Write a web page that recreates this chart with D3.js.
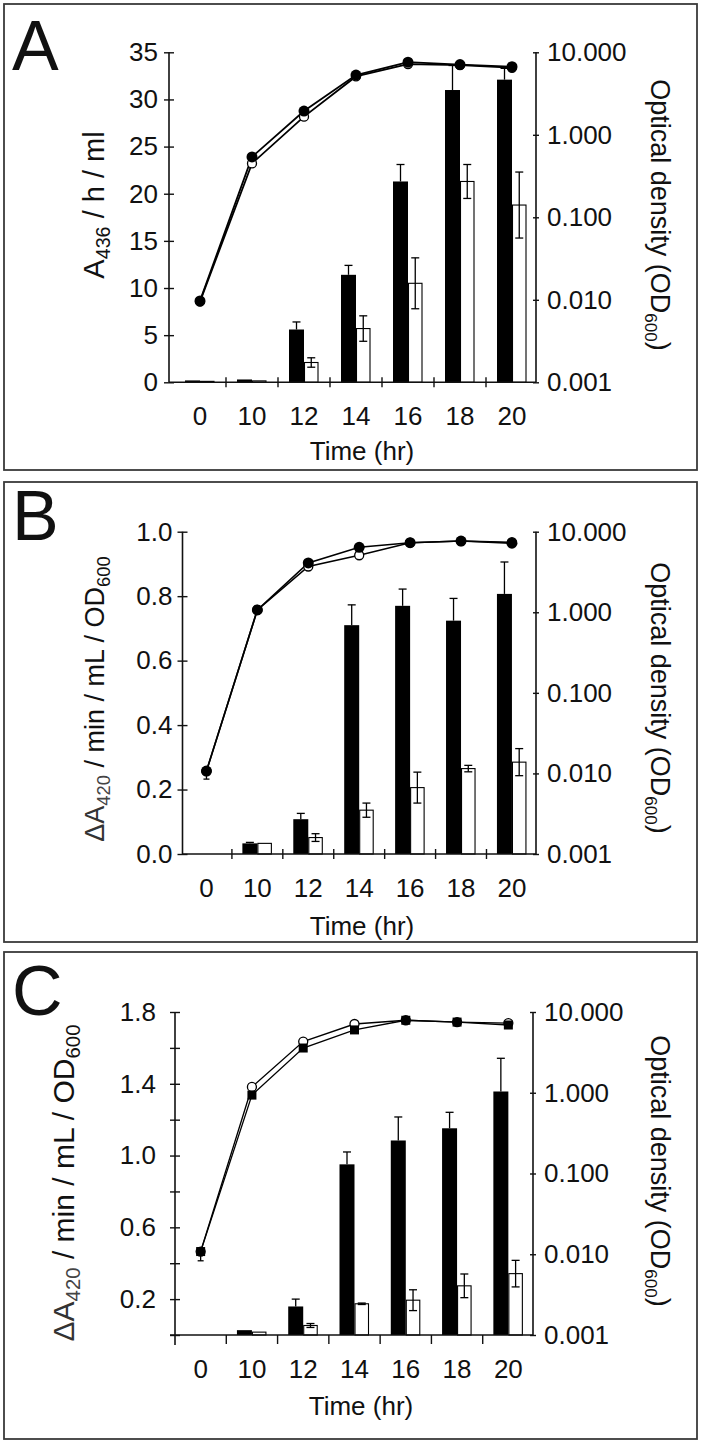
<!DOCTYPE html>
<html><head><meta charset="utf-8">
<script src="https://cdn.jsdelivr.net/npm/d3@7"></script>
<style>
body{margin:0;background:#fff}
svg{display:block}
text{font-family:"Liberation Sans",Arial,Helvetica,sans-serif;fill:#111}
</style>
</head><body>
<svg id="chart" width="706" height="1445"></svg>
<script>
// ---------- DATA ----------
const categories = ["0","10","12","14","16","18","20"];
const odTicks = [0.001, 0.01, 0.1, 1, 10];

// Panel A  (A436 / h / ml)
const aBlack    = [0.2, 0.3, 5.6, 11.4, 21.3, 31.0, 32.1];
const aBlackErr = [0, 0, 0.8, 1.0, 1.8, 2.6, 1.2];
const aWhite    = [0.1, 0.15, 2.1, 5.7, 10.5, 21.3, 18.8];
const aWhiteErr = [0, 0, 0.5, 1.35, 2.7, 1.8, 3.5];
const aOD1      = [0.0097, 0.54, 1.94, 5.3, 7.6, 7.1, 6.7];
const aOD2      = [0.0095, 0.45, 1.66, 5.1, 7.2, 7.0, 6.5];
const aOD1Low   = [0.0086, null, null, 4.7, null, null, null];
const aLeftTicks = [0, 5, 10, 15, 20, 25, 30, 35];
const aLeftTickLabels = ["0","5","10","15","20","25","30","35"];

// Panel B  (ΔA420 / min / mL / OD600)
const bBlack    = [0, 0.033, 0.108, 0.710, 0.770, 0.724, 0.807];
const bBlackErr = [0, 0.003, 0.018, 0.063, 0.052, 0.069, 0.099];
const bWhite    = [0, 0.033, 0.051, 0.136, 0.206, 0.265, 0.285];
const bWhiteErr = [0, 0, 0.012, 0.022, 0.048, 0.01, 0.042];
const bOD1      = [0.0107, 1.07, 4.1, 6.4, 7.3, 7.65, 7.2];
const bOD2      = [0.0107, 1.07, 3.7, 5.1, 7.3, 7.65, 7.4];
const bOD1Low   = [0.0085, null, null, null, null, null, null];
const bLeftTicks = [0, 0.2, 0.4, 0.6, 0.8, 1.0];
const bLeftTickLabels = ["0.0","0.2","0.4","0.6","0.8","1.0"];

// Panel C  (ΔA420 / min / mL / OD600)
const cBlack    = [0, 0.027, 0.159, 0.951, 1.084, 1.152, 1.357];
const cBlackErr = [0, 0, 0.041, 0.069, 0.131, 0.089, 0.185];
const cWhite    = [0, 0.016, 0.053, 0.174, 0.194, 0.274, 0.342];
const cWhiteErr = [0, 0, 0.011, 0.004, 0.058, 0.066, 0.074];
const cOD1      = [0.0108, 1.18, 4.3, 7.1, 7.9, 7.5, 7.3];
const cOD2      = [0.0108, 0.935, 3.58, 6.0, 7.9, 7.5, 6.9];
const cOD1Low   = [0.0083, null, null, null, null, null, null];
const cLeftTicks = [0, 0.2, 0.4, 0.6, 0.8, 1.0, 1.2, 1.4, 1.6, 1.8];
const cLeftTickLabels = ["0.2","0.6","1.0","1.4","1.8"];

// ---------- DRAW ----------
const svg = d3.select("#chart");
const FONT = '"Liberation Sans",Arial,Helvetica,sans-serif';

function drawPanel(p) {
  const g = svg.append("g");
  g.append("rect")
    .attr("x", p.frame[0]).attr("y", p.frame[1])
    .attr("width", p.frame[2] - p.frame[0]).attr("height", p.frame[3] - p.frame[1])
    .attr("fill", "none").attr("stroke", "#3a3a3a").attr("stroke-width", 1.8);

  g.append("text").text(p.letter)
    .attr("x", p.letterPos[0]).attr("y", p.letterPos[1])
    .attr("font-size", 70);

  const x = d3.scaleBand().domain(categories).range(p.xRange);
  const cx = c => x(c) + x.bandwidth() / 2;
  const y = d3.scaleLinear().domain(p.yDomain).range([p.yBottom, p.yTop]);
  const yR = d3.scaleLog().domain([0.001, 10]).range([p.yBottom, p.yTop]);

  // bars
  const barG = g.append("g");
  categories.forEach((c, i) => {
    const vb = p.black[i], vw = p.white[i];
    if (vb > 0) {
      barG.append("rect").attr("x", cx(c) - 15).attr("width", 15)
        .attr("y", y(vb)).attr("height", p.yBottom - y(vb)).attr("fill", "#000");
      if (p.blackErr[i] > 0) {
        const xe = cx(c) - 7.5, ye = y(vb + p.blackErr[i]);
        barG.append("line").attr("x1", xe).attr("x2", xe).attr("y1", y(vb)).attr("y2", ye)
          .attr("stroke", "#000").attr("stroke-width", 1.3);
        barG.append("line").attr("x1", xe - 4).attr("x2", xe + 4).attr("y1", ye).attr("y2", ye)
          .attr("stroke", "#000").attr("stroke-width", 1.3);
      }
    }
    if (vw > 0) {
      barG.append("rect").attr("x", cx(c) + 0.5).attr("width", 13.5)
        .attr("y", y(vw)).attr("height", p.yBottom - y(vw))
        .attr("fill", "#fff").attr("stroke", "#000").attr("stroke-width", 1.1);
      if (p.whiteErr[i] > 0) {
        const xe = cx(c) + 7.25, y1 = y(vw + p.whiteErr[i]), y2 = y(Math.max(0, vw - p.whiteErr[i]));
        barG.append("line").attr("x1", xe).attr("x2", xe).attr("y1", y1).attr("y2", y2)
          .attr("stroke", "#000").attr("stroke-width", 1.3);
        [y1, y2].forEach(yy => barG.append("line").attr("x1", xe - 4).attr("x2", xe + 4)
          .attr("y1", yy).attr("y2", yy).attr("stroke", "#000").attr("stroke-width", 1.3));
      }
    }
  });

  // left axis
  const fmtL = p.leftFormat;
  const la = g.append("g").attr("transform", `translate(${p.leftX},0)`)
    .call(d3.axisLeft(y).tickValues(p.leftTicks).tickSize(5).tickSizeOuter(0).tickPadding(p.leftPad)
      .tickFormat(d => p.leftLabels.includes(fmtL(d)) ? fmtL(d) : ""));
  la.attr("font-size", 26).attr("font-family", FONT).attr("color", "#111");
  la.selectAll(".tick line").attr("x1", 5).attr("stroke-width", 1.4);
  la.select(".domain").remove();
  g.append("line").attr("x1", p.leftX).attr("x2", p.leftX).attr("y1", p.yTop)
    .attr("y2", p.yBottom + (p.xTickDown ? 10 : 0)).attr("stroke", "#111").attr("stroke-width", 1.6);

  // right axis
  const ra = g.append("g").attr("transform", `translate(${p.rightX},0)`)
    .call(d3.axisRight(yR).tickValues(odTicks).tickSize(3).tickSizeOuter(0).tickPadding(8)
      .tickFormat(d3.format(".3f")));
  ra.attr("font-size", 26).attr("font-family", FONT).attr("color", "#111");
  ra.selectAll(".tick line").attr("x1", -3).attr("stroke-width", 1.4);
  ra.select(".domain").remove();
  g.append("line").attr("x1", p.rightX).attr("x2", p.rightX).attr("y1", p.yTop).attr("y2", p.yBottom)
    .attr("stroke", "#111").attr("stroke-width", 1.6);

  // x axis
  g.append("line").attr("x1", p.leftX - (p.xTickDown ? 5 : 0)).attr("x2", p.rightX)
    .attr("y1", p.yBottom).attr("y2", p.yBottom).attr("stroke", "#111").attr("stroke-width", 1.6);
  categories.slice(1).forEach(c => {
    g.append("line").attr("x1", x(c)).attr("x2", x(c))
      .attr("y1", p.yBottom - (p.xTickDown ? 0 : 5)).attr("y2", p.yBottom + (p.xTickDown ? 9 : 5))
      .attr("stroke", "#111").attr("stroke-width", 1.4);
  });
  categories.forEach(c => {
    g.append("text").text(c).attr("x", cx(c)).attr("y", p.catBaseline)
      .attr("text-anchor", "middle").attr("font-size", 26);
  });
  g.append("text").text("Time (hr)").attr("x", p.timePos[0]).attr("y", p.timePos[1])
    .attr("text-anchor", "middle").attr("font-size", 26);

  // left axis title
  const lt = g.append("text")
    .attr("transform", `translate(${p.leftTitlePos[0]},${p.leftTitlePos[1]}) rotate(-90)`)
    .attr("text-anchor", "middle").attr("dy", "0.35em").attr("font-size", p.leftTitleSize);
  p.leftTitle.forEach(part => {
    const t = lt.append("tspan").text(part.t);
    if (part.sub) t.attr("font-size", p.leftTitleSize * 0.68).attr("dy", part.sub === 1 ? 6 : 0);
    if (part.up) t.attr("dy", -6);
    if (part.fill) t.attr("fill", part.fill);
  });

  // right axis title
  const rt = g.append("text")
    .attr("transform", `translate(${p.rightTitlePos[0]},${p.rightTitlePos[1]}) rotate(90)`)
    .attr("text-anchor", "middle").attr("dy", "0.35em").attr("font-size", 27);
  rt.append("tspan").text("Optical density (OD");
  rt.append("tspan").text("600").attr("font-size", 17).attr("dy", 6);
  rt.append("tspan").text(")").attr("dy", -6);

  // OD lines
  const line = d3.line().x((d, i) => cx(categories[i])).y(d => yR(d));
  [p.od2, p.od1].forEach(s => {
    g.append("path").datum(s).attr("d", line).attr("fill", "none")
      .attr("stroke", "#000").attr("stroke-width", p.lineW);
  });
  // error on OD
  p.od1Low.forEach((lo, i) => {
    if (lo == null) return;
    const xx = cx(categories[i]);
    g.append("line").attr("x1", xx).attr("x2", xx).attr("y1", yR(p.od1[i])).attr("y2", yR(lo))
      .attr("stroke", "#000").attr("stroke-width", 1.3);
    g.append("line").attr("x1", xx - 3).attr("x2", xx + 3).attr("y1", yR(lo)).attr("y2", yR(lo))
      .attr("stroke", "#000").attr("stroke-width", 1.3);
  });
  // markers
  const mk = (s, kind) => {
    s.forEach((v, i) => {
      const xx = cx(categories[i]), yy = yR(v);
      if (kind === "open") g.append("circle").attr("cx", xx).attr("cy", yy).attr("r", 4.5)
        .attr("fill", "#fff").attr("stroke", "#000").attr("stroke-width", 1.3);
      else if (kind === "square") g.append("rect").attr("x", xx - 4.5).attr("y", yy - 4.5)
        .attr("width", 9).attr("height", 9).attr("fill", "#000");
      else g.append("circle").attr("cx", xx).attr("cy", yy).attr("r", 5.5).attr("fill", "#000");
    });
  };
  if (p.squaresOnTop) {
    mk(p.od1, p.od1Marker);
    mk(p.od2, p.od2Marker);
  } else {
    mk(p.od2, p.od2Marker);
    mk(p.od1, p.od1Marker);
  }
}

const fmt1 = d3.format(".1f");
const fmt0 = d3.format("d");

drawPanel({
  frame: [4, 4, 697, 470], letter: "A", letterPos: [12, 70],
  xRange: [174, 538], yDomain: [0, 35], yTop: 52.3, yBottom: 382.3,
  leftX: 169, rightX: 536, leftPad: 6,
  leftTicks: aLeftTicks, leftLabels: aLeftTickLabels, leftFormat: fmt0,
  black: aBlack, blackErr: aBlackErr, white: aWhite, whiteErr: aWhiteErr,
  od1: aOD1, od2: aOD2, od1Low: aOD1Low, od1Marker: "filled", od2Marker: "open", lineW: 1.8,
  catBaseline: 425, timePos: [362, 460], xTickDown: false,
  leftTitlePos: [94, 205], leftTitleSize: 29,
  leftTitle: [{t: "A"}, {t: "436", sub: 1}, {t: " / h / ml", up: 1}],
  rightTitlePos: [660, 215]
});

drawPanel({
  frame: [4, 482, 697, 942], letter: "B", letterPos: [12, 540],
  xRange: [181, 537.4], yDomain: [0, 1], yTop: 531.7, yBottom: 854,
  leftX: 182.5, rightX: 536, leftPad: 5,
  leftTicks: bLeftTicks, leftLabels: bLeftTickLabels, leftFormat: fmt1,
  black: bBlack, blackErr: bBlackErr, white: bWhite, whiteErr: bWhiteErr,
  od1: bOD1, od2: bOD2, od1Low: bOD1Low, od1Marker: "filled", od2Marker: "open", lineW: 1.6,
  catBaseline: 897, timePos: [362, 935], xTickDown: false,
  leftTitlePos: [95, 699], leftTitleSize: 27,
  leftTitle: [{t: "ΔA", fill: "#333"}, {t: "420", sub: 1, fill: "#444"}, {t: " / min / mL / OD", up: 1}, {t: "600", sub: 1}],
  rightTitlePos: [660, 698]
});

drawPanel({
  frame: [4, 952, 697, 1439], letter: "C", letterPos: [12, 1015],
  xRange: [175, 534], yDomain: [0, 1.8], yTop: 1012, yBottom: 1335,
  leftX: 175, rightX: 533, leftPad: 14,
  leftTicks: cLeftTicks, leftLabels: cLeftTickLabels, leftFormat: fmt1,
  black: cBlack, blackErr: cBlackErr, white: cWhite, whiteErr: cWhiteErr,
  od1: cOD1, od2: cOD2, od1Low: cOD1Low, od1Marker: "open", od2Marker: "square", lineW: 1.3,
  squaresOnTop: true,
  catBaseline: 1378, timePos: [361, 1415], xTickDown: true,
  leftTitlePos: [63, 1183], leftTitleSize: 30,
  leftTitle: [{t: "ΔA", fill: "#333"}, {t: "420", sub: 1, fill: "#444"}, {t: " / min / mL / OD", up: 1}, {t: "600", sub: 1}],
  rightTitlePos: [660, 1171]
});
</script>
</body></html>
